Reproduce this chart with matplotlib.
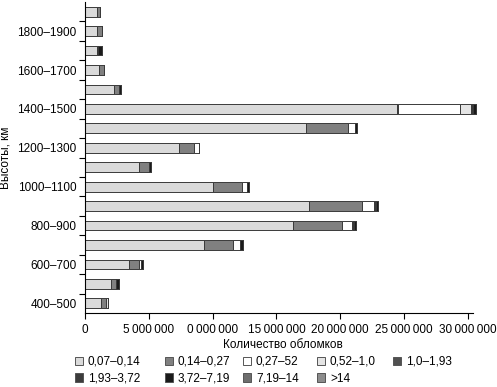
import matplotlib
matplotlib.use("Agg")
import matplotlib.pyplot as plt
import numpy as np
from matplotlib.patches import Patch

plt.rcParams["font.family"] = ["Liberation Sans", "DejaVu Sans"]

# altitude bins, km (bottom to top)
altitudes = ["400–500", "500–600", "600–700", "700–800", "800–900", "900–1000",
             "1000–1100", "1100–1200", "1200–1300", "1300–1400", "1400–1500",
             "1500–1600", "1600–1700", "1700–1800", "1800–1900", "1900–2000"]
labelled = ["400–500", "600–700", "800–900", "1000–1100", "1200–1300",
            "1400–1500", "1600–1700", "1800–1900"]

size_bins = ["0,07–0,14", "0,14–0,27", "0,27–52", "0,52–1,0", "1,0–1,93",
             "1,93–3,72", "3,72–7,19", "7,19–14", ">14"]
bin_colors = ["#dadada", "#808080", "#ffffff", "#e4e4e4", "#505050",
              "#3c3c3c", "#1a1a1a", "#6e6e6e", "#8c8c8c"]

# debris counts, millions, per size bin (one value per altitude bin)
s_007 = [1.23, 2.01, 3.45, 9.34, 16.31, 17.56, 10.0, 4.23, 7.36, 17.3, 24.48, 2.3, 1.12, 0.96, 0.96, 0.91]
s_014 = [0.39, 0.42, 0.78, 2.27, 3.84, 4.15, 2.27, 0.78, 1.2, 3.32, 0.05, 0.37, 0.39, 0.05, 0.34, 0.26]
s_027 = [0.0, 0.0, 0.13, 0.52, 0.76, 0.92, 0.39, 0.0, 0.34, 0.52, 4.85, 0.0, 0.0, 0.0, 0.0, 0.0]
s_052 = [0.18, 0.0, 0.0, 0.0, 0.05, 0.05, 0.0, 0.0, 0.0, 0.0, 0.85, 0.0, 0.0, 0.0, 0.0, 0.0]
s_100 = [0.0, 0.0, 0.0, 0.0, 0.05, 0.05, 0.0, 0.0, 0.0, 0.0, 0.1, 0.0, 0.0, 0.0, 0.0, 0.0]
s_193 = [0.0, 0.0, 0.0, 0.0, 0.05, 0.05, 0.0, 0.0, 0.0, 0.0, 0.1, 0.0, 0.0, 0.0, 0.0, 0.0]
s_372 = [0.0, 0.26, 0.2, 0.26, 0.16, 0.19, 0.2, 0.2, 0.0, 0.18, 0.17, 0.18, 0.0, 0.33, 0.0, 0.0]
s_719 = [0.0] * 16
s_14 = [0.0] * 16
series = [s_007, s_014, s_027, s_052, s_100, s_193, s_372, s_719, s_14]

xticks = [0, 5e6, 10e6, 15e6, 20e6, 25e6, 30e6]
xticklabels = ["0", "5\u2009000\u2009000", "0\u2009000\u2009000", "15\u2009000\u2009000",
               "20\u2009000\u2009000", "25\u2009000\u2009000", "30\u2009000\u2009000"]

W, H = 497, 387
fig = plt.figure(figsize=(W / 100, H / 100), dpi=100)
ax = fig.add_axes([85 / W, 1 - 313 / H, 388 / W, 311 / H])

y = np.arange(len(altitudes))
left = np.zeros(len(altitudes))
for vals, color in zip(series, bin_colors):
    v = np.array(vals) * 1e6
    ax.barh(y, v, left=left, height=0.5, color=color, edgecolor="#3a3a3a",
            linewidth=0.7, clip_on=False)
    left += v

ax.set_xlim(0, 30.4e6)
ax.set_ylim(-0.5, 15.5)
ax.set_xticks(xticks)
ax.set_xticklabels(xticklabels, fontsize=8.5)
ax.set_yticks([altitudes.index(a) for a in labelled])
ax.set_yticklabels(labelled, fontsize=8.5)
ax.tick_params(axis="y", which="major", length=0, pad=6)
ax.set_yticks(np.arange(0.5, 15.5, 1.0), minor=True)
ax.tick_params(axis="y", which="minor", length=4, width=0.8)
ax.tick_params(axis="x", length=4, width=0.8, pad=4)
for side in ("top", "right"):
    ax.spines[side].set_visible(False)
for side in ("left", "bottom"):
    ax.spines[side].set_linewidth(0.8)

fig.text(283 / W, 1 - 345 / H, "Количество обломков", fontsize=8.5,
         ha="center", va="center")
ax.set_ylabel("Высоты, км", fontsize=8.5, labelpad=4)

# legend: fixed column positions, two rows
col_x = [75, 165, 243, 317, 393]
columns = [[0, 5], [1, 6], [2, 7], [3, 8], [4]]
for cx, idx in zip(col_x, columns):
    handles = [Patch(facecolor=bin_colors[i], edgecolor="#555555", linewidth=0.7) for i in idx]
    fig.legend(handles, [size_bins[i] for i in idx], loc="upper left",
               bbox_to_anchor=(cx / W, 1 - 356 / H), frameon=False,
               fontsize=8.5, handlelength=0.7, handleheight=0.7, handletextpad=0.4,
               labelspacing=0.4, borderpad=0, borderaxespad=0)

fig.savefig("out.png", dpi=100)
